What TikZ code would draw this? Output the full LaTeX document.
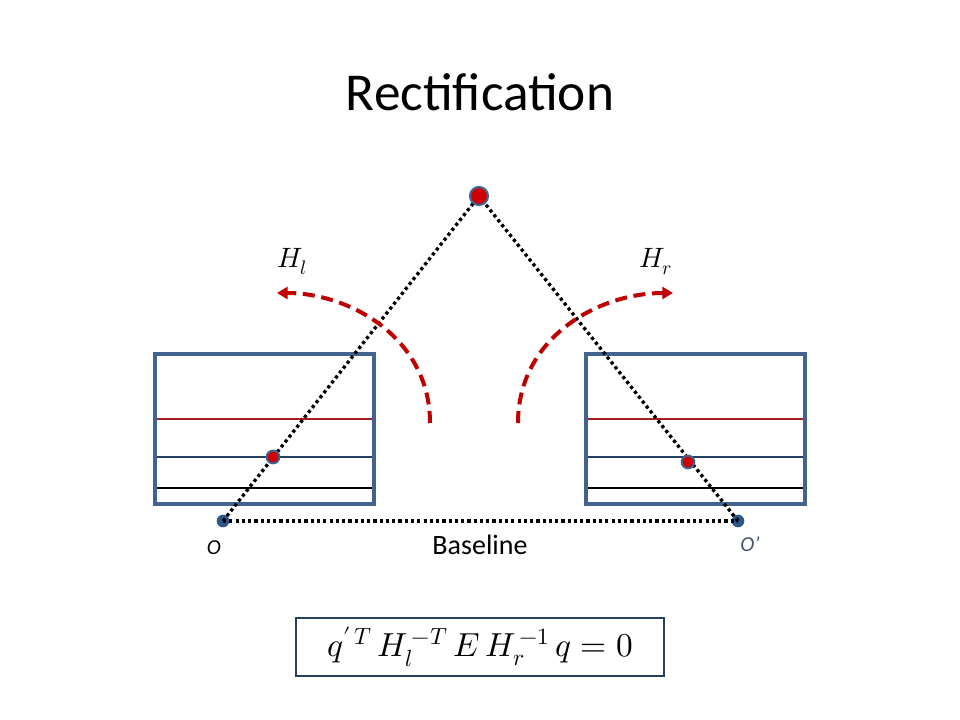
\documentclass[tikz,border=0pt]{standalone}
\usepackage{fontspec}
\usepackage{unicode-math}
\setmainfont{Carlito}
\setmathfont{Latin Modern Math}
\usetikzlibrary{arrows.meta, positioning}
\definecolor{frameblue}{HTML}{41638E}
\definecolor{linered}{HTML}{A31F24}
\definecolor{linenavy}{HTML}{22405F}
\definecolor{warpred}{HTML}{C00000}
\definecolor{dotred}{HTML}{D00000}
\definecolor{centerblue}{HTML}{2B5789}
\definecolor{primeblue}{HTML}{44546A}
\definecolor{eqframe}{HTML}{243F60}
\tikzset{
    plane/.style={draw=frameblue, line width=2.3pt},
    epiline/.style={line width=1.4pt},
    ray/.style={draw=black, line width=2.5pt, dash pattern=on 2.4pt off 2.3pt},
    warp/.style={draw=warpred, line width=3pt, dash pattern=on 9pt off 5pt, -{Triangle[length=8pt,width=9pt]}},
    world/.style={circle, fill=dotred, draw=frameblue, line width=1.6pt, minimum size=13.5pt, inner sep=0pt},
    imgpt/.style={circle, fill=dotred, draw=frameblue, line width=1.5pt, minimum size=9.5pt, inner sep=0pt},
    center/.style={circle, fill=centerblue, minimum size=9.5pt, inner sep=0pt},
    camname/.style={font=\fontsize{16}{18}\selectfont\itshape, inner sep=0pt},
}

\begin{document}
\begin{tikzpicture}[x=0.75pt, y=-0.75pt]
    \useasboundingbox (0,0) rectangle (960,720);

    \node (title) at (480,92) {\fontsize{40}{48}\selectfont Rectification};

    \foreach \x in {155,586} {
      \draw[epiline, draw=linered] (\x,419) -- ++(219,0);
      \draw[epiline, draw=linenavy] (\x,457) -- ++(219,0);
      \draw[epiline, draw=black] (\x,488) -- ++(219,0);
      \draw[plane] (\x,354) rectangle ++(219,150);
    }

    \node[center] (ol) at (223,521) {};
    \node[center] (or) at (738,521) {};
    \coordinate (P) at (479,196);

    \draw[ray] (ol.center) -- (P);
    \draw[ray] (or.center) -- (P);
    \draw[ray] (ol.center) -- (or.center);

    \node[world] (p) at (P) {};
    \node[imgpt] (ql) at (273,457) {};
    \node[imgpt] (qr) at (688,462) {};

    \coordinate (al) at (430,423);
    \coordinate (ar) at (518,423);
    \coordinate (tl) at (277,293);
    \coordinate (tr) at (673,293);
    \draw[warp] (al) .. controls (430,338) and (350,293) .. (tl);
    \draw[warp] (ar) .. controls (518,338) and (598,293) .. (tr);

    \node (hl) at (292,262) {\fontsize{21}{24}\selectfont $H_l$};
    \node (hr) at (656,262) {\fontsize{21}{24}\selectfont $H_r$};

    \node[camname, below left=11pt and -2pt of ol] (olname) {O};
    \node[camname, text=primeblue, below right=8pt and -2pt of or] (orname) {O’};
    \node (base) at (480,545) {\fontsize{21}{24}\selectfont Baseline};

    \node[draw=eqframe, line width=1.6pt, minimum width=276pt, minimum height=44pt] (epi) at (480,647)
      {\fontsize{25}{29}\selectfont $q'^{\,T}\, H_l^{\,-T}\, E\, H_r^{\,-1}\, q = 0$};
\end{tikzpicture}
\end{document}
